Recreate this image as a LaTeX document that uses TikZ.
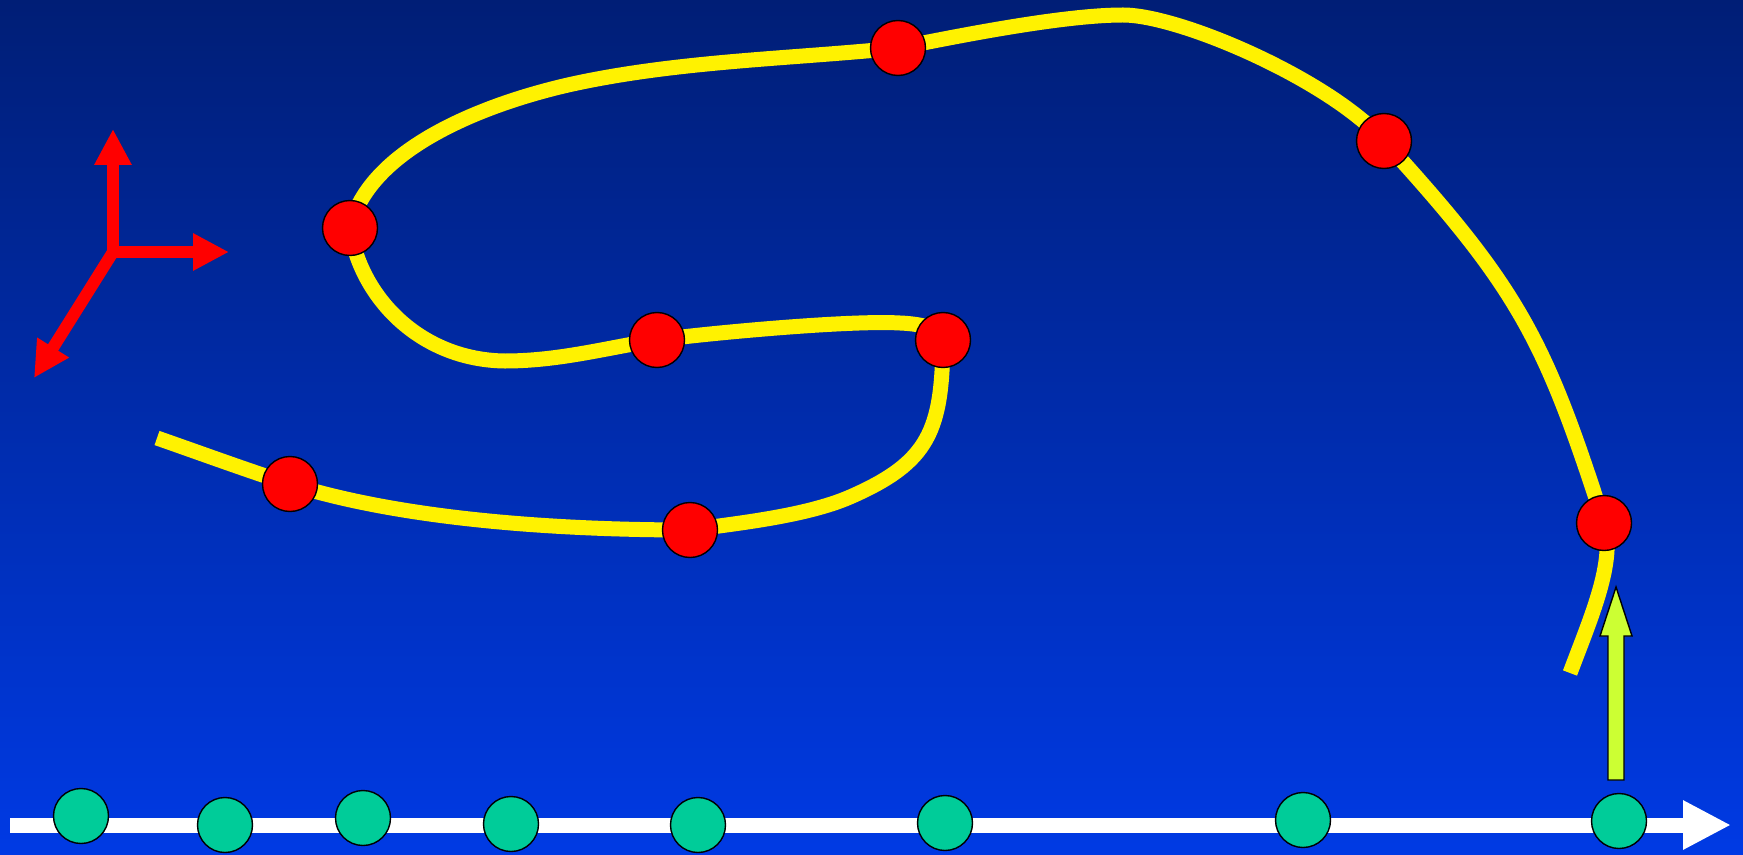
\documentclass[tikz,border=0pt]{standalone}
\usetikzlibrary{arrows.meta}
\definecolor{skytop}{RGB}{0,30,118}
\definecolor{skybottom}{RGB}{0,58,228}
\definecolor{samplegreen}{RGB}{0,204,153}
\definecolor{liftgreen}{RGB}{204,255,51}
\begin{document}
\begin{tikzpicture}[
  x=0.1mm, y=-0.1mm,
  station/.style={circle, draw=black, line width=0.4pt, fill=red,
                  minimum size=5.5mm, inner sep=0pt},
  sample/.style={circle, draw=black, line width=0.4pt, fill=samplegreen,
                 minimum size=5.5mm, inner sep=0pt},
  track/.style={line width=1.5mm, yellow},
  frame/.style={line width=1.2mm, red, -{Triangle[length=3.6mm, width=3.5mm]}},
  timeline/.style={line width=1.5mm, white, -{Triangle[length=4.8mm, width=4.6mm]}},
  lift/.style={draw=black, line width=0.4pt, fill=liftgreen},
]
  % Background
  \fill[top color=skytop, bottom color=skybottom] (0,0) rectangle (1743,854);
  \useasboundingbox (0,0) rectangle (1743,854);

  % Reference frame
  \coordinate (o) at (113,252);
  \coordinate (ox) at (229,252);
  \coordinate (oy) at (113,129);
  \coordinate (oz) at (34,378);
  \draw[frame] (o) -- (oy);
  \draw[frame] (o) -- (ox);
  \draw[frame] (o) -- (oz);

  % Trajectory
  \coordinate (q1) at (1604,523);
  \coordinate (q2) at (1384,141);
  \coordinate (q3) at (898,48);
  \coordinate (q4) at (350,228);
  \coordinate (q5) at (657,340);
  \coordinate (q6) at (943,340);
  \coordinate (q7) at (690,530);
  \coordinate (q8) at (290,484);
  \draw[track] (1570,673) .. controls (1591,617) and (1616,561) .. (q1)
    .. controls (1545,340) and (1520,290) .. (q2)
    .. controls (1330,80) and (1180,15) .. (1123,15)
    .. controls (1063,15) and (958,36) .. (q3)
    .. controls (789,59) and (675,61) .. (568,85)
    .. controls (481,105) and (368,150) .. (q4)
    .. controls (360,297) and (420,360) .. (505,361)
    .. controls (560,361) and (610,347) .. (q5)
    .. controls (710,333) and (850,320) .. (900,323)
    .. controls (925,324) and (943,330) .. (q6)
    .. controls (942,430) and (930,462) .. (850,497)
    .. controls (804,517) and (730,524) .. (q7)
    .. controls (560,530) and (404,520) .. (q8)
    .. controls (252,472) and (200,453) .. (157,438);

  % Stations on the trajectory
  \node[station] (p1) at (q1) {};
  \node[station] (p2) at (q2) {};
  \node[station] (p3) at (q3) {};
  \node[station] (p4) at (q4) {};
  \node[station] (p5) at (q5) {};
  \node[station] (p6) at (q6) {};
  \node[station] (p7) at (q7) {};
  \node[station] (p8) at (q8) {};

  % Time axis
  \coordinate (t0) at (10,825);
  \coordinate (t1) at (1731,825);
  \draw[timeline] (t0) -- (t1);

  % Samples on the time axis
  \node[sample] (s1) at (81,816) {};
  \node[sample] (s2) at (225,825) {};
  \node[sample] (s3) at (363,818) {};
  \node[sample] (s4) at (511,824) {};
  \node[sample] (s5) at (698,825) {};
  \node[sample] (s6) at (945,823) {};
  \node[sample] (s7) at (1303,820) {};
  \node[sample] (s8) at (1619,821) {};

  % Upward arrow
  \coordinate (liftbase) at (1616,780);
  \draw[lift] (liftbase) ++(-8,0) -- ++(16,0) -- ++(0,-144) -- ++(8,0)
    -- ++(-16,-49) -- ++(-16,49) -- ++(8,0) -- cycle;
\end{tikzpicture}
\end{document}
